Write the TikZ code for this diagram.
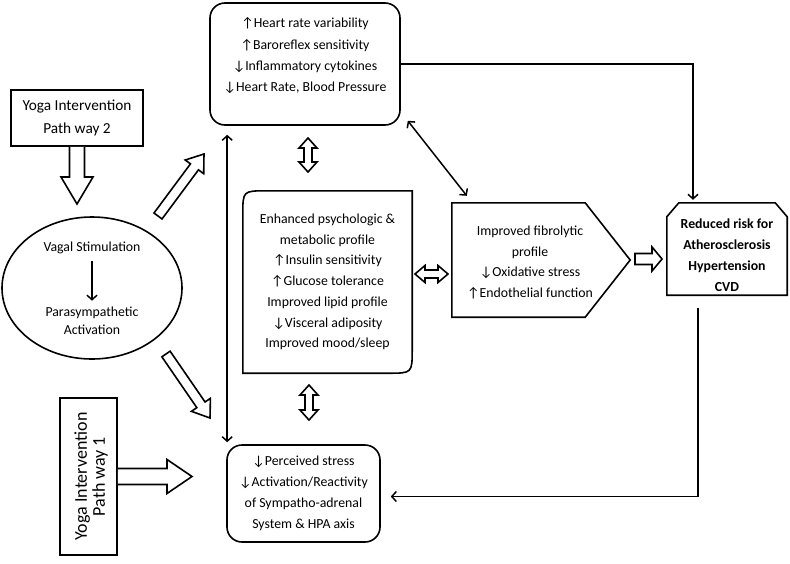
\documentclass[tikz,border=0pt]{standalone}
\usepackage{fontspec}
\setmainfont{Carlito}
\usetikzlibrary{calc,arrows.meta,shapes.geometric}
\newcommand\myup{↑}
\newcommand\mydn{↓}
% hollow block arrow: #1 tail, #2 tip, #3 shaft half width, #4 head half width, #5 head length, #6 closing
\newcommand\blockarr[6]{%
  \path ($(#2)!#5pt!(#1)$) coordinate (ba-h);
  \fill[white] ($(#1)!#3pt!90:(#2)$) -- ($(ba-h)!#3pt!90:(#2)$) -- ($(ba-h)!#4pt!90:(#2)$) -- (#2)
     -- ($(ba-h)!#4pt!-90:(#2)$) -- ($(ba-h)!#3pt!-90:(#2)$) -- ($(#1)!#3pt!-90:(#2)$) -- cycle;
  \draw[hol] ($(#1)!#3pt!90:(#2)$) -- ($(ba-h)!#3pt!90:(#2)$) -- ($(ba-h)!#4pt!90:(#2)$) -- (#2)
     -- ($(ba-h)!#4pt!-90:(#2)$) -- ($(ba-h)!#3pt!-90:(#2)$) -- ($(#1)!#3pt!-90:(#2)$) #6;}
% hollow double arrow: #1, #2 ends, #3 shaft half, #4 head half, #5 head length
\newcommand\dblarr[5]{%
  \path ($(#1)!#5pt!(#2)$) coordinate (da-a) ($(#2)!#5pt!(#1)$) coordinate (da-b);
  \draw[hol,fill=white] (#1) -- ($(da-a)!#4pt!90:(#2)$) -- ($(da-a)!#3pt!90:(#2)$) -- ($(da-b)!#3pt!-90:(#1)$)
     -- ($(da-b)!#4pt!-90:(#1)$) -- (#2) -- ($(da-b)!#4pt!90:(#1)$) -- ($(da-b)!#3pt!90:(#1)$)
     -- ($(da-a)!#3pt!-90:(#2)$) -- ($(da-a)!#4pt!-90:(#2)$) -- cycle;}
\begin{document}
\begin{tikzpicture}[x=1pt,y=-1pt,
  box/.style={draw, line width=1.6pt, rounded corners=15pt, inner sep=0pt},
  sqbox/.style={draw, line width=1.6pt, inner sep=0pt},
  txt/.style={align=center, inner sep=0pt, font={\fontsize{13.8}{20.8}\selectfont}},
  hol/.style={line width=1.6pt, line join=miter},
  con/.style={line width=1.5pt, -{Straight Barb[length=4.5pt,width=10pt]}},
  dcon/.style={line width=1.5pt, {Straight Barb[length=4.5pt,width=10pt]}-{Straight Barb[length=4.5pt,width=10pt]}}]
\useasboundingbox (0,0) rectangle (790,563);
\fill[white] (0,0) rectangle (790,563);

% top box
\node[box, minimum width=190pt, minimum height=122pt] (hr) at (305,64) {};
\node[txt, font={\fontsize{13.8}{21.3}\selectfont}] (hrt) at (305,56)
  {\myup Heart rate variability\\ \myup Baroreflex sensitivity\\ \mydn Inflammatory cytokines\\ \mydn Heart Rate, Blood Pressure};

% yoga pathway 2
\node[sqbox, minimum width=132pt, minimum height=56pt, align=center, font={\fontsize{15.3}{23}\selectfont}] (y2) at (77,118)
  {Yoga Intervention\\Path way 2};
\coordinate (y2tip) at (77,204);
\blockarr{y2.south}{y2tip}{7.5}{16}{27}{}

% vagal ellipse
\node[draw, ellipse, line width=1.6pt, minimum width=180pt, minimum height=142pt, inner sep=0pt] (vag) at (92,288) {};
\node[txt] (vs) at (92,248) {Vagal Stimulation};
\node[txt, font={\fontsize{13.8}{18.5}\selectfont}] (pa) at (92,321) {Parasympathetic\\Activation};
\draw[con, shorten <=7pt, shorten >=6pt] (vs) -- (pa);

% block arrows from ellipse
\coordinate (ne1) at (158,216);
\coordinate (ne2) at (204,154);
\blockarr{ne1}{ne2}{5}{11.5}{16}{-- cycle}
\coordinate (se1) at (166,354);
\coordinate (se2) at (210,418);
\blockarr{se1}{se2}{5}{11.5}{16}{-- cycle}

% yoga pathway 1
\node[sqbox, minimum width=57pt, minimum height=157pt] (y1) at (88.5,476.5) {};
\node[rotate=90, align=center, inner sep=0pt, font={\fontsize{18}{18}\selectfont}] (y1t) at (91,476.5)
  {Yoga Intervention\\Path way 1};
\coordinate (y1tip) at (192,476.5);
\blockarr{y1.east}{y1tip}{8}{17}{25}{}

% middle box
\node[txt, minimum width=169pt, minimum height=182pt, font={\fontsize{13.8}{20.7}\selectfont}] (met) at (327.5,282)
  {Enhanced psychologic \&\\metabolic profile\\ \myup Insulin sensitivity\\ \myup Glucose tolerance\\Improved lipid profile\\ \mydn Visceral adiposity\\Improved mood/sleep};
\draw[line width=1.6pt] (met.south west) -- ($(met.north west)+(0,24)$) .. controls (met.north west) .. ($(met.north west)+(24,0)$)
  -- (met.north east) -- ($(met.south east)+(0,-24)$) .. controls (met.south east) .. ($(met.south east)+(-24,0)$) -- cycle;

% bottom box
\node[box, txt, minimum width=153pt, minimum height=97pt, font={\fontsize{13.8}{21}\selectfont}] (st) at (303.5,493.5)
  {\mydn Perceived stress\\ \mydn Activation/Reactivity\\of Sympatho-adrenal\\System \& HPA axis};

% fibrolytic pentagon
\node[minimum width=178pt, minimum height=114pt, inner sep=0pt] (fib) at (541,260) {};
\draw[line width=1.6pt, line join=miter] (fib.north west) -- ($(fib.north east)+(-45,0)$) -- (fib.east)
  -- ($(fib.south east)+(-45,0)$) -- (fib.south west) -- cycle;
\node[txt, font={\fontsize{13.8}{20.4}\selectfont}] (fibt) at (530,262.5)
  {Improved fibrolytic\\profile\\ \mydn Oxidative stress\\ \myup Endothelial function};

% risk box
\node[minimum width=120pt, minimum height=92pt, inner sep=0pt] (risk) at (727,249) {};
\draw[line width=1.6pt, line join=miter] (risk.south west) -- ($(risk.north west)+(0,14)$) -- ($(risk.north west)+(12,0)$)
  -- ($(risk.north east)+(-12,0)$) -- ($(risk.north east)+(0,14)$) -- (risk.south east) -- cycle;
\node[txt, font={\bfseries\fontsize{13.8}{21}\selectfont}] (riskt) at (727,255)
  {Reduced risk for\\Atherosclerosis\\Hypertension\\CVD};

% hollow double arrows
\coordinate (d1a) at (308,138);
\coordinate (d1b) at (308,172);
\dblarr{d1a}{d1b}{4}{9}{10}
\coordinate (d2a) at (309,385);
\coordinate (d2b) at (309,420);
\dblarr{d2a}{d2b}{4}{9}{10}
\coordinate (d3a) at (415,274);
\coordinate (d3b) at (448,274);
\dblarr{d3a}{d3b}{4}{8.5}{10}
\coordinate (fr1) at (635,259);
\coordinate (fr2) at (662,259);
\blockarr{fr1}{fr2}{5.5}{12}{10}{-- cycle}

% thin connectors
\coordinate (va1) at ($(hr.south west)+(18,9)$);
\coordinate (va2) at ($(st.north west)+(1,-2)$);
\draw[dcon] (va1) -- (va2);
\draw[dcon] ($(hr.south east)+(7,-5)$) -- ($(fib.north west)+(15,-7)$);
\draw[con, shorten >=3pt] (hr.east) -| ($(risk.north)+(-34,0)$);
\draw[con] ($(risk.south)+(-29,13)$) |- ($(st.east)+(10,3)$);
\end{tikzpicture}
\end{document}
